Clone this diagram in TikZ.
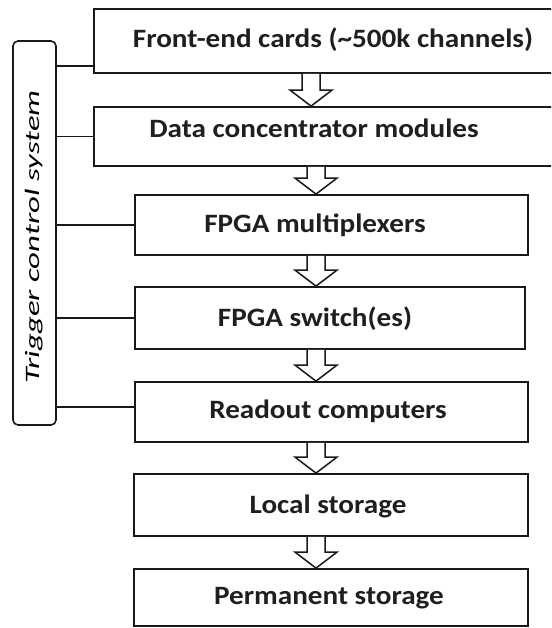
\documentclass[tikz,border=0pt]{standalone}
\usepackage{fontspec}
\usepackage{graphicx}
\setmainfont{Carlito}
\usetikzlibrary{calc}

% slightly widened lettering used for the stage names
\newcommand{\widetext}[1]{\scalebox{1.1}[1]{#1}}

\tikzset{
  stage/.style={draw=black!90, line width=1.8pt, fill=white, rectangle, inner sep=0pt},
  lbl/.style={anchor=base, inner sep=0pt, text=black!88,
              font=\fontsize{26.5}{30}\selectfont\bfseries},
  tie/.style={draw=black!90, line width=1.6pt},
  % hollow block arrow between two stages
  hollow/.style={draw=black!90, line width=1.5pt, fill=white, line join=miter,
    to path={let \p1=(\tikztostart), \p2=(\tikztotarget) in
      (\x1-9pt,\y1) -- (\x1-9pt,\y2+16pt) -- (\x1-21pt,\y2+16pt) -- (\x2,\y2)
      -- (\x1+21pt,\y2+16pt) -- (\x1+9pt,\y2+16pt) -- (\x1+9pt,\y1)}},
}

\begin{document}
\begin{tikzpicture}[x=1pt, y=-1pt]
  \useasboundingbox[fill=white] (0,0) rectangle (551,628);
  \clip (0,0) rectangle (551,628);

  % readout chain
  \node[stage, minimum width=478pt, minimum height=64pt] (fe) at (333,41) {};
  \node[stage, minimum width=478pt, minimum height=59pt] (dc) at (333,136.5) {};
  \node[stage, minimum width=393pt, minimum height=60pt] (mx) at (331.5,225) {};
  \node[stage, minimum width=390pt, minimum height=62pt] (sw) at (330,318) {};
  \node[stage, minimum width=393pt, minimum height=60pt] (ro) at (331.5,412) {};
  \node[stage, minimum width=394pt, minimum height=62pt] (ls) at (331,505) {};
  \node[stage, minimum width=394pt, minimum height=57pt] (ps) at (331,597.5) {};

  \node[lbl] (fe-l) at (333,48)  {\widetext{Front-end cards (\textasciitilde500k channels)}};
  \node[lbl] (dc-l) at (314,138) {\widetext{Data concentrator modules}};
  \node[lbl] (mx-l) at (315,232) {\widetext{FPGA multiplexers}};
  \node[lbl] (sw-l) at (315,326) {\widetext{FPGA switch(es)}};
  \node[lbl] (ro-l) at (328,418) {\widetext{Readout computers}};
  \node[lbl] (ls-l) at (328,513) {\widetext{Local storage}};
  \node[lbl] (ps-l) at (329,604) {\widetext{Permanent storage}};

  % data flow arrows
  \coordinate (ax1) at (311,0);
  \coordinate (ax2) at (316,0);
  \draw[hollow] (fe.south -| ax1) to (dc.north -| ax1);
  \draw[hollow] (dc.south -| ax2) to (mx.north -| ax2);
  \draw[hollow] (mx.south -| ax2) to (sw.north -| ax2);
  \draw[hollow] (sw.south -| ax2) to (ro.north -| ax2);
  \draw[hollow] (ro.south -| ax2) to (ls.north -| ax2);
  \draw[hollow] (ls.south -| ax2) to (ps.north -| ax2);

  % trigger control system
  \node[stage, line width=1.6pt, rounded corners=5pt,
        minimum width=43pt, minimum height=384pt] (trig) at (34.5,233) {};
  \node[rotate=90, inner sep=0pt, text=black,
        font=\fontsize{20.5}{24}\selectfont\itshape] (trig-l) at (34,237)
        {\scalebox{1.6}[1]{Trigger control system}};

  \coordinate (fe-t) at ([yshift=-25pt]fe.west);
  \coordinate (ro-t) at ([yshift=5pt]ro.west);
  \draw[tie] (fe-t -| trig.east) -- (fe-t);
  \draw[tie] (dc.west -| trig.east) -- (dc.west);
  \draw[tie] (mx.west -| trig.east) -- (mx.west);
  \draw[tie] (sw.west -| trig.east) -- (sw.west);
  \draw[tie] (ro-t -| trig.east) -- (ro-t);
\end{tikzpicture}
\end{document}
